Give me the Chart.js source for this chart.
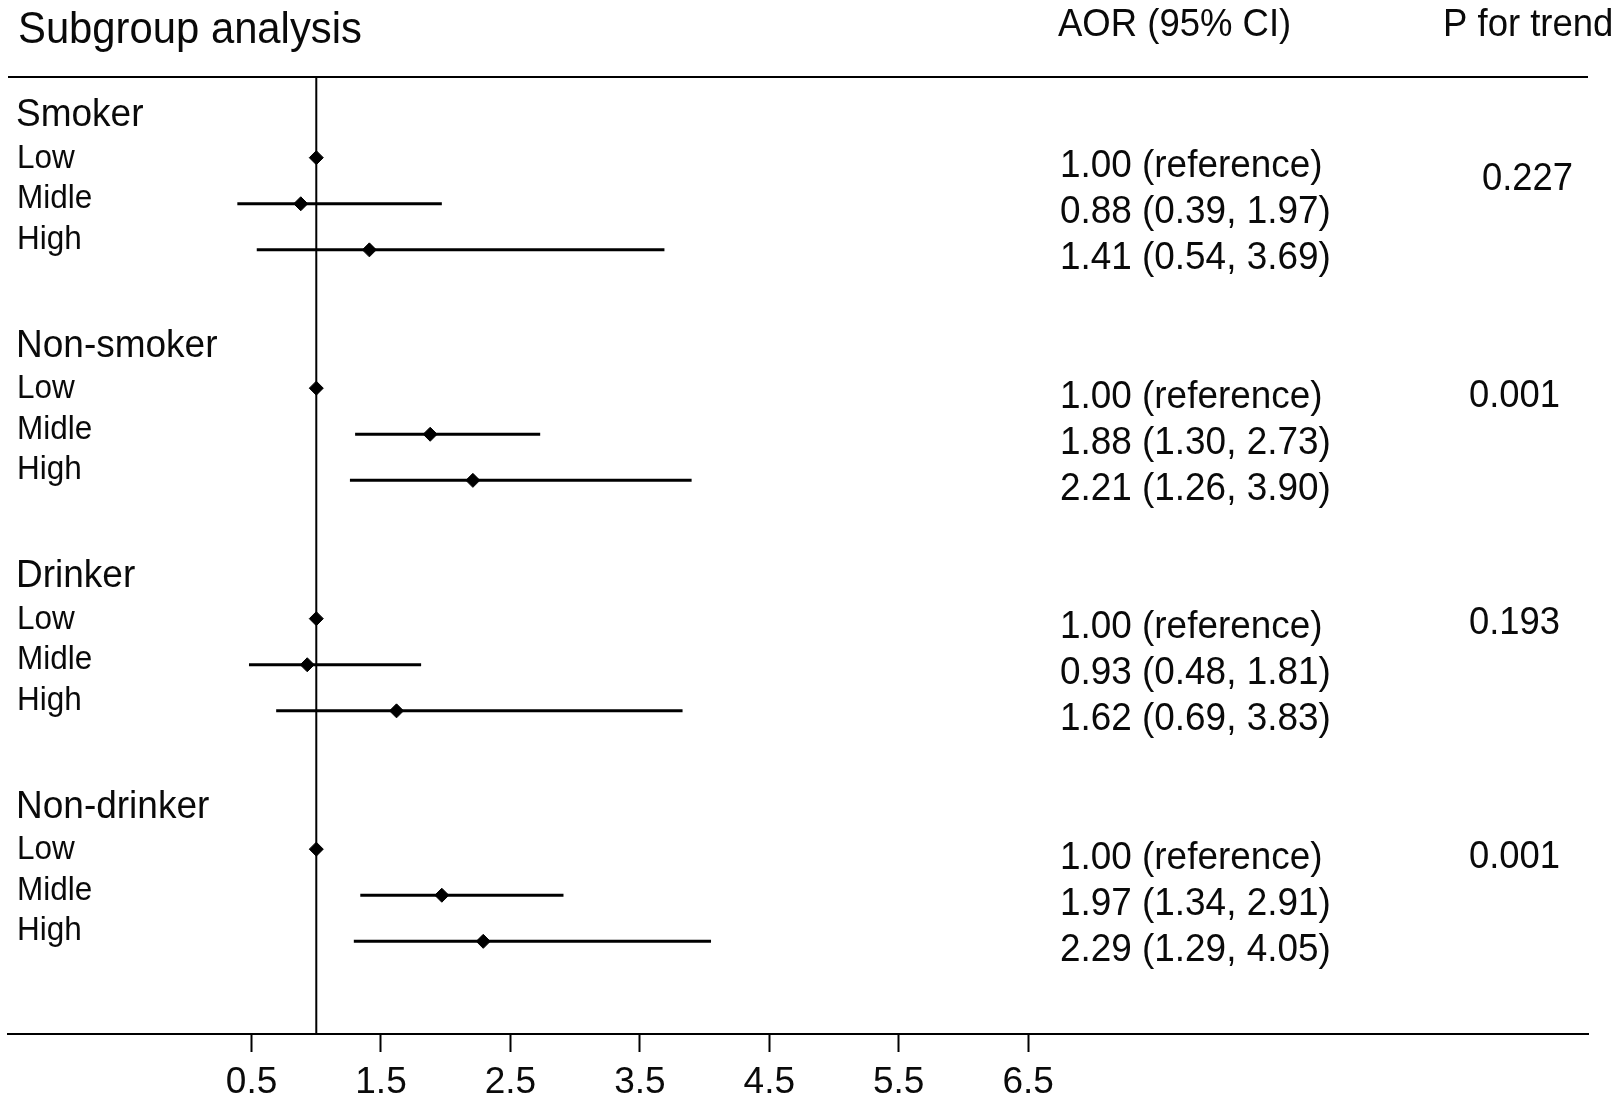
<!DOCTYPE html>
<html>
<head>
<meta charset="utf-8">
<title>Subgroup analysis</title>
<script src="https://cdn.jsdelivr.net/npm/chart.js@4.4.0/dist/chart.umd.min.js"></script>
<style>
  html, body { margin: 0; padding: 0; background: #fff; }
  #forest { display: block; }
</style>
</head>
<body>
<canvas id="forest" width="1619" height="1101"></canvas>
<script>
// data
var groups = ['Smoker', 'Non-smoker', 'Drinker', 'Non-drinker'];
var levels = ['Low', 'Midle', 'High'];
var aor    = [[1.00, 0.88, 1.41], [1.00, 1.88, 2.21], [1.00, 0.93, 1.62], [1.00, 1.97, 2.29]];
var ciLow  = [[null, 0.39, 0.54], [null, 1.30, 1.26], [null, 0.48, 0.69], [null, 1.34, 1.29]];
var ciHigh = [[null, 1.97, 3.69], [null, 2.73, 3.90], [null, 1.81, 3.83], [null, 2.91, 4.05]];
var pTrend = ['0.227', '0.001', '0.193', '0.001'];
var tickValues = [0.5, 1.5, 2.5, 3.5, 4.5, 5.5, 6.5];

var titleText = 'Subgroup analysis';
var colHeads = ['AOR (95% CI)', 'P for trend'];

var FONT = '"Liberation Sans", Arial, Helvetica, sans-serif';
var INK = '#000';

// row index on the y scale: 5 rows per group, first row a bit below the rule
function rowValue(b, r) { return 1.75 + 5 * b + r; }
var yMax = 20.76;

function ciLabel(b, r) {
  if (ciLow[b][r] === null) return aor[b][r].toFixed(2) + ' (reference)';
  return aor[b][r].toFixed(2) + ' (' + ciLow[b][r].toFixed(2) + ', ' + ciHigh[b][r].toFixed(2) + ')';
}

// build datasets
var points = [];
var datasets = [];
groups.forEach(function (g, b) {
  levels.forEach(function (l, r) {
    points.push({ x: aor[b][r], y: rowValue(b, r) });
    if (ciLow[b][r] !== null) {
      datasets.push({
        type: 'line',
        data: [{ x: ciLow[b][r], y: rowValue(b, r) }, { x: ciHigh[b][r], y: rowValue(b, r) }],
        borderColor: INK,
        borderWidth: 3,
        pointRadius: 0,
        order: 1
      });
    }
  });
});

datasets.unshift({
  type: 'scatter',
  data: points,
  pointStyle: 'rectRot',
  pointRadius: 7,
  backgroundColor: INK,
  borderColor: INK,
  borderWidth: 1,
  order: 0
});

// vertical no-effect line at AOR = 1
datasets.push({
  type: 'line',
  data: [{ x: 1, y: 0 }, { x: 1, y: yMax }],
  borderColor: INK,
  borderWidth: 2,
  pointRadius: 0,
  order: 2
});

// text placement (pixels relative to each group's first row)
var pX = [1482, 1469, 1469, 1469];
var pDy = [32.4, 19.3, 15, 19.3];

// glyphs in the figure are a little taller than the font
function tallText(ctx, txt, x, y) {
  ctx.save();
  ctx.translate(x, y);
  ctx.scale(1, 1.07);
  ctx.fillText(txt, 0, 0);
  ctx.restore();
}

var forestText = {
  id: 'forestText',
  afterDraw: function (chart) {
    var ctx = chart.ctx, ys = chart.scales.y, area = chart.chartArea;
    ctx.save();
    ctx.strokeStyle = INK;
    ctx.lineWidth = 2;
    ctx.beginPath();
    ctx.moveTo(area.left, area.top);
    ctx.lineTo(area.right, area.top);
    ctx.stroke();

    ctx.fillStyle = '#0a0a0a';
    ctx.textAlign = 'left';
    ctx.textBaseline = 'alphabetic';
    ctx.font = '41.8px ' + FONT;
    tallText(ctx, titleText, 18, 43);
    ctx.font = '36.5px ' + FONT;
    tallText(ctx, colHeads[0], 1058, 36);
    tallText(ctx, colHeads[1], 1443, 36);

    groups.forEach(function (g, b) {
      var y0 = ys.getPixelForValue(rowValue(b, 0));
      ctx.font = '37px ' + FONT;
      tallText(ctx, g, 16, y0 - 31.6);
      ctx.font = '31.5px ' + FONT;
      levels.forEach(function (l, r) {
        tallText(ctx, l, 17, y0 + 10 + r * 40.5);
      });
      ctx.font = '36.9px ' + FONT;
      levels.forEach(function (l, r) {
        var y = ys.getPixelForValue(rowValue(b, r));
        tallText(ctx, ciLabel(b, r), 1060, y + 19.5);
      });
      ctx.font = '36.4px ' + FONT;
      tallText(ctx, pTrend[b], pX[b], y0 + pDy[b]);
    });
    ctx.restore();
  }
};

var forestChart = new Chart(document.getElementById('forest'), {
  type: 'scatter',
  data: { datasets: datasets },
  options: {
    responsive: false,
    animation: false,
    events: [],
    layout: { padding: { top: 77, left: 7, right: 31, bottom: 0 } },
    plugins: { legend: { display: false }, tooltip: { enabled: false } },
    scales: {
      x: {
        type: 'linear',
        min: -1.382,
        max: 10.826,
        afterBuildTicks: function (scale) {
          scale.ticks = tickValues.map(function (v) { return { value: v }; });
        },
        afterFit: function (scale) { scale.height = 67; },
        grid: {
          drawOnChartArea: false,
          drawTicks: true,
          tickLength: 18,
          tickWidth: 2,
          tickColor: INK
        },
        border: { display: true, color: INK, width: 2 },
        ticks: {
          padding: 9,
          color: '#0a0a0a',
          font: { family: FONT, size: 37 },
          callback: function (v) { return v.toFixed(1); }
        }
      },
      y: {
        type: 'linear',
        display: false,
        reverse: true,
        min: 0,
        max: yMax
      }
    }
  },
  plugins: [forestText]
});
</script>
</body>
</html>
